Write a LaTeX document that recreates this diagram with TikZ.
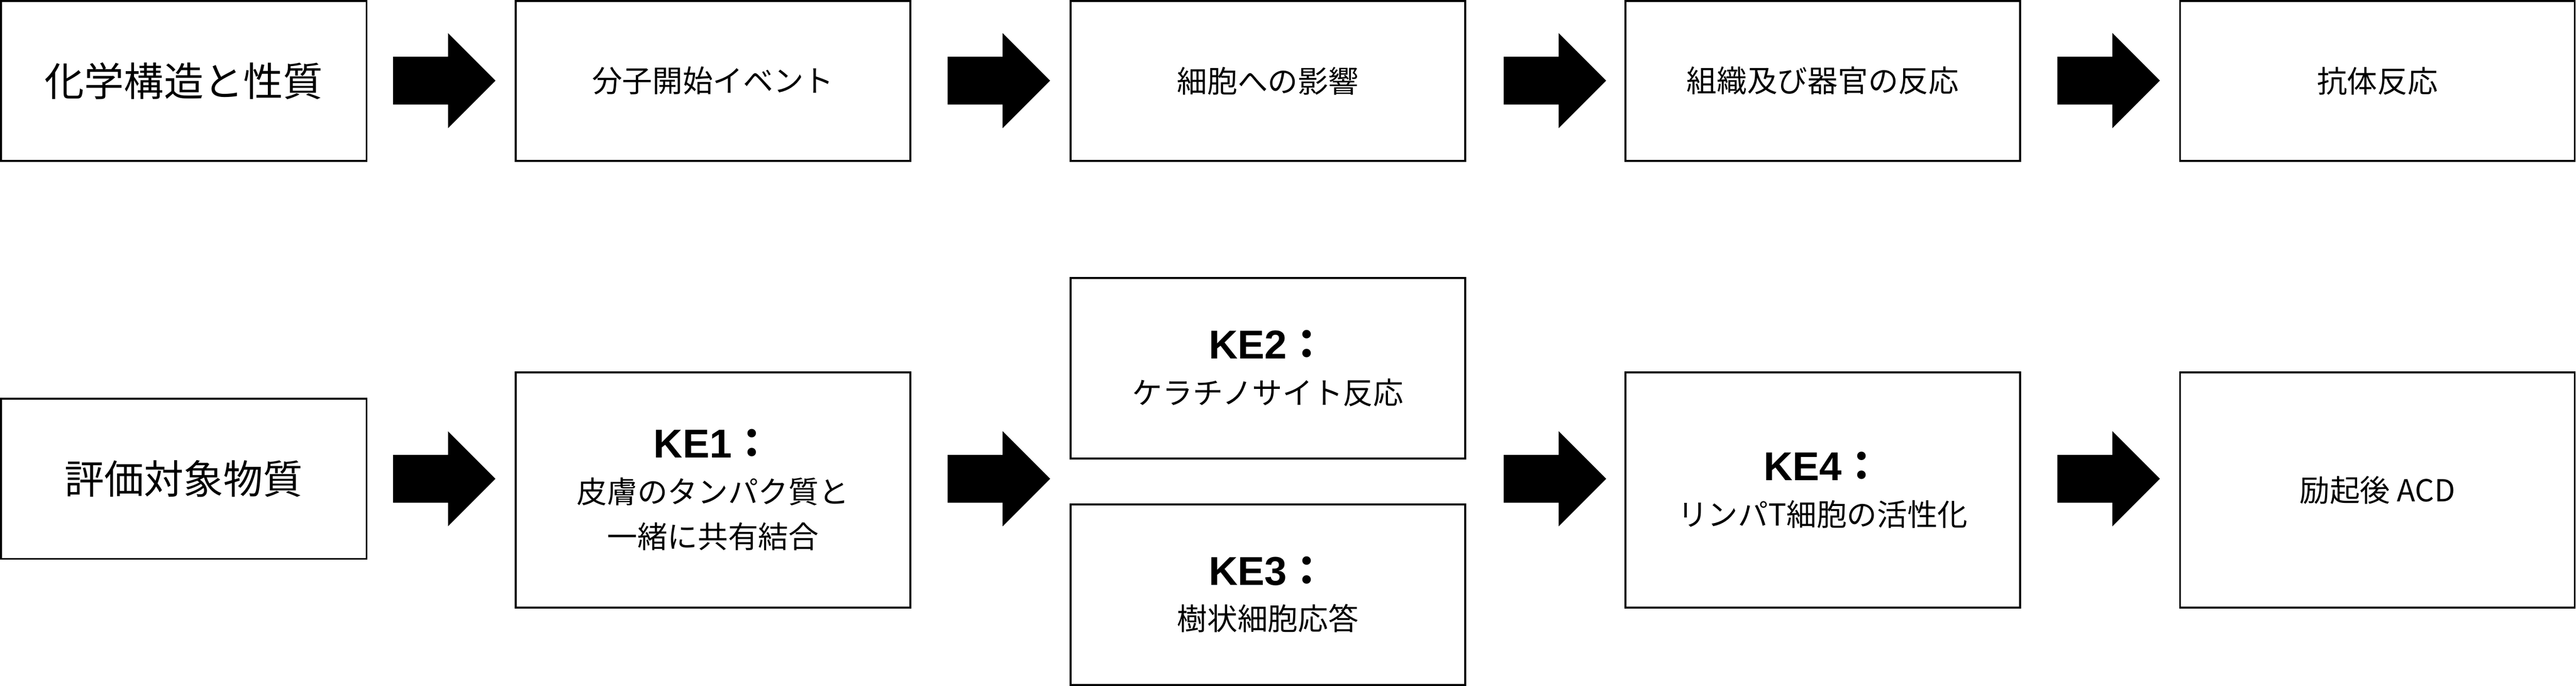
\documentclass[tikz,border=0pt]{standalone}
\usepackage{fontspec}
\setmainfont{Liberation Sans}
\newfontfamily\jpfont{Noto Sans CJK JP}
\usetikzlibrary{positioning, shapes.arrows, calc}

\newcommand{\ketitle}[1]{{\rmfamily\bfseries\fontsize{25}{28}\selectfont KE#1{\jpfont ：}}}

\begin{document}
\begin{tikzpicture}[
		box/.style={draw, line width=1.14pt, inner sep=0pt, align=center,
			minimum width=8.62cm, font=\jpfont\fontsize{18.8}{28}\selectfont},
		bigbox/.style={box, minimum width=7.99cm, font=\jpfont\fontsize{24.7}{30}\selectfont},
		blockarrow/.style={single arrow, fill=black, draw=none, inner xsep=0pt, inner ysep=0.515cm,
			minimum height=2.24cm, single arrow head extend=0.515cm,
			single arrow tip angle=90, anchor=tail}]
		\useasboundingbox (0,0) rectangle (56.29,-14.97);
		
		% Upper row
		\node[bigbox, minimum height=3.49cm] (chem) at (4.015,-1.765) {化学構造と性質};
		\node[box, minimum height=3.49cm] (mie) at (15.58,-1.765) {分子開始イベント};
		\node[box, minimum height=3.49cm] (cell) at (27.705,-1.765) {細胞への影響};
		\node[box, minimum height=3.49cm] (organ) at (39.83,-1.765) {組織及び器官の反応};
		\node[box, minimum height=3.49cm] (anti) at (51.95,-1.765) {抗体反応};
		
		% Lower row
		\node[bigbox, minimum height=3.50cm] (subst) at (4.015,-10.45) {評価対象物質};
		\node[box, minimum height=5.13cm] (ke1) at (15.58,-10.695) {\ketitle{1}\\皮膚のタンパク質と\\一緒に共有結合};
		\node[box, minimum height=3.94cm] (ke2) at (27.705,-8.04) {\ketitle{2}\\ケラチノサイト反応};
		\node[box, minimum height=3.94cm] (ke3) at (27.705,-12.98) {\ketitle{3}\\樹状細胞応答};
		\node[box, minimum height=5.13cm] (ke4) at (39.83,-10.695) {\ketitle{4}\\リンパT細胞の活性化};
		\node[box, minimum height=5.13cm] (acd) at (51.95,-10.695) {励起後 ACD};
		
		% Block arrows
		\foreach \x [count=\i] in {8.58, 20.70, 32.85, 44.95} {
			\node[blockarrow] (up\i) at (\x,-1.76) {};
			\node[blockarrow] (low\i) at (\x,-10.45) {};
		}
	\end{tikzpicture}
\end{document}
